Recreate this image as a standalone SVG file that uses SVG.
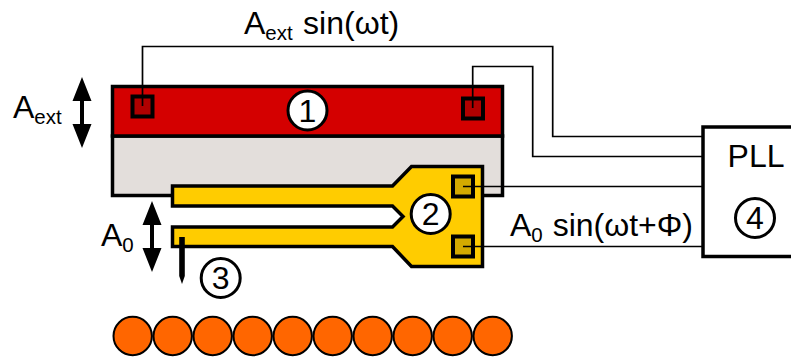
<svg xmlns="http://www.w3.org/2000/svg" width="791" height="360" viewBox="0 0 791 360">
<style>
.k{stroke:#000;stroke-width:3.5;fill:none}
.w{stroke:#000;stroke-width:1.7;fill:none}
.c{fill:#fff;stroke:#000;stroke-width:3}
.o{fill:#ff6600;stroke:#000;stroke-width:2}
.pr{fill:#b00000;stroke:#000;stroke-width:4}
.py{fill:#d4aa00;stroke:#000;stroke-width:4}
text{font-family:"Liberation Sans",Arial,sans-serif;font-size:32px;fill:#000}
.n{font-size:32px;text-anchor:middle}
.s{font-size:20.500px}
</style>
<defs>
<path id="dbl" d="M0 0L9.500 24H2V47H9.500L0 71L-9.500 47H-2V24H-9.500Z" fill="#000"/>
</defs>
<rect width="791" height="360" fill="#fff"/>
<g id="node-base">
<rect x="112.5" y="136" width="390" height="59.500" fill="#e3dedb" stroke="#000" stroke-width="3.500"/>
</g>
<g id="node-1">
<rect x="112.5" y="86.500" width="390" height="49.500" fill="#d40000" stroke="#000" stroke-width="3.500"/>
<rect class="pr" x="132.500" y="96.500" width="20" height="20"/>
<rect class="pr" x="463" y="98.500" width="20" height="20"/>
</g>
<g id="node-2">
<path d="M172.500 186H392.500L411.500 166.500H482.500V266.500H411.500L392.500 246.500H172.500V227H392.500L403 216.500L392.500 206H172.500Z" fill="#ffcc00" stroke="#000" stroke-width="3.500"/>
<rect class="py" x="453" y="176.500" width="20" height="20"/>
<rect class="py" x="453" y="236.500" width="20" height="20"/>
</g>
<g id="connectors">
<path class="w" d="M142.500 106V46.500H552.700V136.500H703"/>
<path class="w" d="M472.700 108V66.500H532.700V156.500H703"/>
<path class="w" d="M463 186.500H703"/>
<path class="w" d="M463 246.500H703"/>
</g>
<g id="node-pll">
<path d="M791 127H703V256.500H791" fill="#fff" stroke="#000" stroke-width="3.500"/>
<text x="756" y="166.500" class="n">PLL</text>
</g>
<g id="arrows">
<use href="#dbl" x="82" y="77"/>
<use href="#dbl" x="152" y="201"/>
<path d="M179.200 237H184.800V276L182 284L179.200 276Z" fill="#000"/>
</g>
<g id="labels">
<text x="13" y="117.500">A<tspan class="s" dy="6">ext</tspan></text>
<text x="101" y="246">A<tspan class="s" dy="6">0</tspan></text>
<text x="244" y="33.500">A<tspan class="s" dy="6">ext</tspan><tspan dy="-6" dx="1.500"> sin(ωt)</tspan></text>
<text x="510" y="236">A<tspan class="s" dy="6">0</tspan><tspan dy="-6" dx="1"> sin(ωt+Φ)</tspan></text>
</g>
<g id="badge-1"><circle class="c" cx="307.500" cy="110.500" r="19.500"/><text class="n" x="307.500" y="122">1</text></g>
<g id="badge-2"><circle class="c" cx="430.700" cy="214" r="19.500"/><text class="n" x="430.700" y="225">2</text></g>
<g id="badge-3"><circle class="c" cx="220.700" cy="278" r="19.500"/><text class="n" x="220.700" y="289">3</text></g>
<g id="badge-4"><circle class="c" cx="755" cy="218" r="19.500"/><text class="n" x="755" y="229">4</text></g>
<g id="beads">
<circle class="o" cx="132.700" cy="336" r="19.200"/>
<circle class="o" cx="172.700" cy="336" r="19.200"/>
<circle class="o" cx="212.700" cy="336" r="19.200"/>
<circle class="o" cx="252.700" cy="336" r="19.200"/>
<circle class="o" cx="292.700" cy="336" r="19.200"/>
<circle class="o" cx="332.700" cy="336" r="19.200"/>
<circle class="o" cx="372.700" cy="336" r="19.200"/>
<circle class="o" cx="412.700" cy="336" r="19.200"/>
<circle class="o" cx="452.700" cy="336" r="19.200"/>
<circle class="o" cx="492.700" cy="336" r="19.200"/>
</g>
</svg>
